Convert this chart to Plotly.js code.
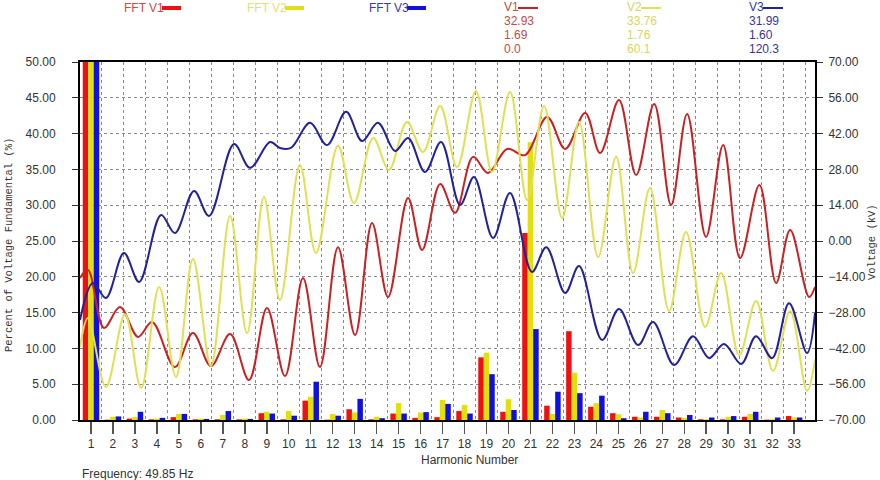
<!DOCTYPE html>
<html><head><meta charset="utf-8">
<script src="https://cdn.plot.ly/plotly-3.0.1.min.js"></script>
<style>html,body{margin:0;padding:0;background:#fff}#chart{width:880px;height:480px}</style>
</head><body><div id="chart"></div>
<script>
// ---- DATA ----
const harmonics = [1,2,3,4,5,6,7,8,9,10,11,12,13,14,15,16,17,18,19,20,21,22,23,24,25,26,27,28,29,30,31,32,33];
const fftV1 = [100,0.05,0.2,0.1,0.4,0.1,0.1,0.1,0.95,0.1,2.7,0.05,1.5,0.1,0.9,0.3,0.4,1.25,8.75,1.15,26.1,2.0,12.4,1.85,0.95,0.45,0.45,0.35,0.1,0.1,0.45,0.05,0.55];
const fftV2 = [100,0.45,0.4,0.2,0.85,0.2,0.7,0.2,1.15,1.25,3.25,0.85,1.05,0.45,2.35,1.05,2.8,2.1,9.4,2.9,38.8,0.85,6.6,2.35,0.8,0.35,1.4,0.3,0.1,0.45,0.85,0.1,0.35];
const fftV3 = [100,0.5,1.15,0.3,0.85,0.15,1.25,0.15,0.9,0.6,5.35,0.6,2.95,0.25,0.9,1.1,2.25,0.9,6.4,1.4,12.7,3.95,3.75,3.4,0.25,1.15,0.95,0.7,0.35,0.55,1.15,0.35,0.35];

const v1X = [0.5,0.86,1.59,2.32,3.14,3.78,4.82,5.64,6.46,7.33,8.19,9.01,9.83,10.65,11.42,12.24,13.02,13.79,14.52,15.43,16.07,16.89,17.57,18.39,19.07,19.94,20.75,21.76,22.58,23.49,24.17,25.03,25.81,26.63,27.40,28.13,28.99,29.77,30.54,31.42,32.18,32.82,33.68,33.95];
const v1Kv = [-14.5,-11.3,-34.0,-25.8,-37.5,-31.7,-49.3,-36.0,-48.9,-36.4,-54.4,-26.2,-52.8,-14.5,-49.3,-2.4,-36.8,7.0,-21.9,16.8,-3.5,22.3,11.0,32.9,26.6,36.0,33.6,48.5,36.0,50.1,34.4,55.1,25.8,53.6,14.1,49.7,1.6,37.5,-6.7,21.9,-16.4,4.3,-21.9,-18.0];

const v2X = [0.5,0.86,1.68,2.55,3.28,4.10,4.87,5.64,6.46,7.33,8.10,8.87,9.60,10.51,11.24,12.24,12.97,13.84,14.56,15.38,16.11,16.89,17.66,18.52,19.25,20.07,20.85,21.62,22.44,23.21,24.08,24.90,25.67,26.44,27.31,28.08,28.95,29.68,30.50,31.27,32.04,32.82,33.59,33.95];
const v2Kv = [-41.5,-30.1,-57.1,-28.6,-57.5,-18.0,-53.2,-7.0,-48.9,9.8,-36.0,17.2,-23.1,29.7,-4.7,37.2,14.9,40.3,27.8,46.5,34.8,52.8,28.9,58.7,27.0,58.3,16.0,52.8,9.0,46.5,-6.3,32.9,-12.5,20.7,-27.4,3.5,-33.6,-12.5,-44.6,-23.5,-50.8,-27.4,-58.7,-46.5];

const v3X = [0.5,1.09,1.68,2.50,3.19,4.19,4.82,5.69,6.37,7.51,8.24,9.15,9.60,10.10,10.97,11.74,12.61,13.34,14.06,14.84,15.43,16.20,16.93,17.80,18.43,19.30,20.07,21.07,21.72,22.58,23.21,24.26,25.03,25.90,26.58,27.54,28.40,29.13,29.81,30.59,31.27,32.00,32.77,33.59,33.95];
const v3Kv = [-30.9,-16.4,-22.3,-4.7,-16.0,10.2,3.1,19.6,9.8,37.9,28.6,38.7,36.4,36.4,46.2,37.5,50.5,39.1,46.2,35.2,40.3,27.0,38.7,14.1,25.0,1.2,18.8,-12.1,-2.4,-20.3,-9.8,-38.7,-26.6,-40.7,-31.7,-48.5,-37.2,-45.8,-40.3,-48.1,-37.2,-45.8,-24.3,-43.8,-28.2];

const seriesNames = ['FFT V1','FFT V2','FFT V3'];
const waveNames = ['V1','V2','V3'];
const rmsKv = ['32.93','33.76','31.99'];
const thdPct = ['1.69','1.76','1.60'];
const phaseDeg = ['0.0','60.1','120.3'];
const frequencyText = 'Frequency: 49.85 Hz';

// ---- STYLE ----
const barColors = ['#ee1111','#e2df10','#1010e0'];
const lineColors = ['#c82222','#e0e055','#22229a'];
const titleColors = ['#cc4a4a','#e0e07a','#3a3aa2'];
const colColors = ['#c84848','#d6d660','#3535a5'];
const FONT = 'Liberation Sans, Arial, sans-serif';
const MONO = 'Liberation Mono, Courier New, monospace';

const L=80, R=815, T=62, B=420;
const px = x => (x-L)/(R-L);
const py = y => (B-y)/(B-T);

const traces = [];
[fftV1,fftV2,fftV3].forEach((vals,i)=>{
  traces.push({type:'bar', x:harmonics, y:vals, name:seriesNames[i], marker:{color:barColors[i], line:{width:0}}, xaxis:'x', yaxis:'y', hoverinfo:'skip'});
});
[[v1X,v1Kv],[v2X,v2Kv],[v3X,v3Kv]].forEach((d,i)=>{
  traces.push({type:'scatter', mode:'lines', x:d[0], y:d[1], name:waveNames[i], line:{color:lineColors[i], width:2, shape:'spline', smoothing:1}, xaxis:'x2', yaxis:'y2', hoverinfo:'skip'});
});

const annotations = [];
const shapes = [];
const fftX = [122,245,367];
seriesNames.forEach((n,i)=>{
  annotations.push({text:n, xref:'paper', yref:'paper', x:px(fftX[i]), y:py(8), xanchor:'left', yanchor:'middle', showarrow:false, font:{family:FONT,size:12,color:titleColors[i]}});
  shapes.push({type:'line', xref:'paper', yref:'paper', x0:px(fftX[i]+40), x1:px(fftX[i]+59), y0:py(8), y1:py(8), line:{color:barColors[i], width:4}});
});
const colX = [502,625,747];
waveNames.forEach((n,i)=>{
  const rows = [n, rmsKv[i], thdPct[i], phaseDeg[i]];
  const ys = [7,21,35,49];
  rows.forEach((t,j)=>{
    annotations.push({text:t, xref:'paper', yref:'paper', x:px(colX[i]), y:py(ys[j]), xanchor:'left', yanchor:'middle', showarrow:false, font:{family:FONT,size:12,color:colColors[i]}});
  });
  shapes.push({type:'line', xref:'paper', yref:'paper', x0:px(colX[i]+16), x1:px(colX[i]+36), y0:py(8), y1:py(8), line:{color:lineColors[i], width:2}});
});
annotations.push({text:'Harmonic Number', xref:'paper', yref:'paper', x:px(469), y:py(460), xanchor:'center', yanchor:'middle', showarrow:false, font:{family:FONT,size:12,color:'#333'}});
annotations.push({text:frequencyText, xref:'paper', yref:'paper', x:px(80), y:py(474), xanchor:'left', yanchor:'middle', showarrow:false, font:{family:FONT,size:12,color:'#333'}});
annotations.push({text:'Percent of Voltage Fundamental (%)', xref:'paper', yref:'paper', x:px(9), y:py(245), xanchor:'center', yanchor:'middle', textangle:-90, showarrow:false, font:{family:MONO,size:10.5,color:'#333'}});
annotations.push({text:'Voltage (kV)', xref:'paper', yref:'paper', x:px(872), y:py(242), xanchor:'center', yanchor:'middle', textangle:-90, showarrow:false, font:{family:MONO,size:10.5,color:'#333'}});

const layout = {
  width:880, height:480,
  margin:{l:80, r:65, t:62, b:60, pad:0},
  paper_bgcolor:'#fff', plot_bgcolor:'#fff',
  showlegend:false,
  barmode:'group', bargap:0.25, bargroupgap:0,
  font:{family:FONT, size:12, color:'#333'},
  xaxis:{range:[0.5,33.95], tickmode:'linear', tick0:1, dtick:1, showgrid:false, zeroline:false,
    showline:true, linecolor:'#000', linewidth:2, mirror:true,
    ticks:'outside', ticklen:12, tickcolor:'#555', tickwidth:1.5, ticklabelstandoff:0,
    tickfont:{family:FONT,size:12,color:'#333'}},
  xaxis2:{overlaying:'x', range:[0.5,33.95], tickmode:'linear', tick0:0.5, dtick:1, showgrid:true, griddash:'dot', gridcolor:'#8a8a8a', gridwidth:1,
    showticklabels:false, ticks:'', showline:false, zeroline:false, side:'bottom'},
  yaxis:{range:[0,50], tickmode:'linear', tick0:0, dtick:5, tickformat:'.2f', showgrid:true, griddash:'dot', gridcolor:'#8a8a8a', gridwidth:1, zeroline:false,
    showline:true, linecolor:'#000', linewidth:2, ticks:'outside', ticklen:6, tickcolor:'#333', ticklabelstandoff:14,
    tickfont:{family:FONT,size:12,color:'#333'}},
  yaxis2:{overlaying:'y', side:'right', range:[-70,70], tickmode:'linear', tick0:-70, dtick:14, tickformat:'.2f', showgrid:false, zeroline:false,
    showline:true, linecolor:'#000', linewidth:2, ticks:'outside', ticklen:6, tickcolor:'#333', ticklabelstandoff:3,
    tickfont:{family:FONT,size:12,color:'#333'}},
  annotations:annotations,
  shapes:shapes
};
Plotly.newPlot('chart', traces, layout, {staticPlot:true, displayModeBar:false});
</script></body></html>
